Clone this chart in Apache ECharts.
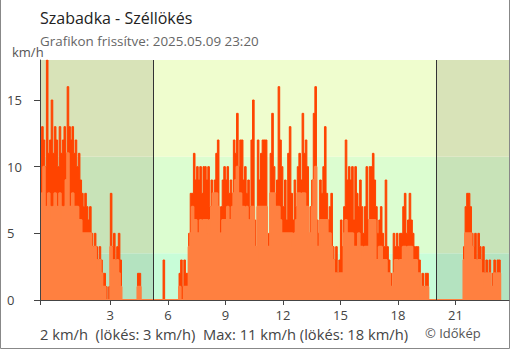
<!DOCTYPE html>
<html>
<head>
<meta charset="utf-8">
<script src="https://cdn.jsdelivr.net/npm/echarts@6/dist/echarts.min.js"></script>
<style>
  html, body { margin: 0; padding: 0; background: #fff; }
  #chart { width: 510px; height: 350px; }
</style>
</head>
<body>
<div id="chart"></div>
<script>
// Subotica wind record: 5-minute samples from 23:20 of the previous day to 23:20.
const startHour = -2 / 3;
const stepHours = 5 / 60;

// Gusts (km/h), one value per 5-minute slot; the trailing 0 closes the last step.
const gustKmh = [
  12,13,12,10,18,11,12,15,11,13,
  12,10,13,11,12,13,11,16,13,12,
  13,11,12,10,11,9,8,7,8,7,
  6,7,5,4,5,4,3,4,3,2,
  2,1,0,1,8,4,5,3,4,5,
  3,0,0,0,0,0,0,0,0,0,
  0,2,2,0,0,0,0,0,0,0,
  0,0,0,0,0,0,0,3,0,0,
  0,0,0,0,0,0,0,2,3,1,
  3,2,2,5,8,8,11,9,10,9,
  10,8,10,10,9,10,7,9,7,9,
  11,12,6,7,9,10,9,10,8,9,
  8,12,11,14,10,12,12,9,10,8,
  9,7,12,15,6,4,12,9,11,12,
  12,12,4,5,11,14,10,8,9,16,
  12,10,7,9,6,11,13,8,6,9,
  7,10,11,9,14,11,12,10,5,7,
  9,14,16,6,5,9,8,10,13,8,
  6,7,8,4,3,4,2,3,6,4,
  7,12,9,10,9,10,6,10,8,7,
  9,7,5,7,10,6,10,10,11,9,
  7,5,6,7,5,4,9,4,3,2,
  1,5,4,5,4,5,5,7,8,5,
  6,8,6,5,4,4,4,3,1,2,
  1,2,2,0,0,0,0,0,0,0,
  0,0,0,0,0,0,0,0,0,0,
  0,0,0,0,0,4,7,8,8,7,
  5,4,5,3,5,4,3,4,2,3,
  2,3,1,2,3,2,3,3,0
];

// Mean wind speed (km/h), same slots.
const speedKmh = [
  6,8,10,6,7,8,7,6,7,8,
  7,6,8,7,6,7,9,11,7,7,
  8,7,7,7,6,6,5,5,5,5,
  5,5,4,3,4,3,2,3,2,1,
  1,0,0,0,4,2,3,2,3,2,
  1,0,0,0,0,0,0,0,0,0,
  0,1,1,0,0,0,0,0,0,0,
  0,0,0,0,0,0,0,0,0,0,
  0,0,0,0,0,0,0,1,0,0,
  1,1,1,4,5,7,6,6,5,5,
  6,5,6,6,6,5,6,7,8,8,
  8,7,4,5,6,6,6,7,6,6,
  7,8,9,10,8,8,7,7,6,7,
  6,5,7,7,4,3,7,7,7,7,
  7,7,4,4,8,8,8,7,7,7,
  6,5,5,5,5,5,5,5,4,5,
  6,8,8,7,8,8,7,7,4,5,
  7,9,10,4,4,6,6,6,6,6,
  5,5,4,3,2,2,1,2,2,2,
  5,6,5,5,5,5,4,4,4,5,
  4,4,3,4,4,4,6,6,6,6,
  3,3,4,4,3,3,3,2,2,1,
  1,2,3,3,2,3,3,4,4,3,
  4,4,4,3,3,3,2,2,0,1,
  0,1,1,0,0,0,0,0,0,0,
  0,0,0,0,0,0,0,0,0,0,
  0,0,0,0,0,3,5,5,5,5,
  4,3,3,2,3,3,2,2,1,2,
  1,2,1,1,2,1,2,2,0
];

const xTickHours = [3, 6, 9, 12, 15, 18, 21];
const yTickKmh = [0, 5, 10, 15];
const axisMaxHour = 23.79;
const sunriseHour = 5.24;
const sunsetHour = 20.0;
// Wind strength bands (km/h): calm, light, fresh
const bandEdges = [0, 3.5, 10.75, 18];
const bandColorsDay = ['#c8fdd8', '#dcfdd0', '#effdce'];
const bandColorsNight = ['#b4e3c0', '#c8e3b8', '#d8e3b8'];

const FONT = '"Open Sans", "Noto Sans", sans-serif';

function toPairs(values) {
  return values.map((v, i) => [startHour + i * stepHours, v]);
}

// Background rectangles: wind bands split into night / day / night
const periods = [
  [startHour, sunriseHour, bandColorsNight],
  [sunriseHour, sunsetHour, bandColorsDay],
  [sunsetHour, axisMaxHour, bandColorsNight]
];
const areas = [];
periods.forEach(([x0, x1, colors]) => {
  for (let b = 0; b < 3; b++) {
    areas.push([
      { xAxis: x0, yAxis: bandEdges[b], itemStyle: { color: colors[b], opacity: 1 } },
      { xAxis: x1, yAxis: bandEdges[b + 1] }
    ]);
  }
});

const chart = echarts.init(document.getElementById('chart'), null, { renderer: 'svg' });
chart.setOption({
  animation: false,
  textStyle: { fontFamily: FONT },
  grid: { left: 40, right: 1, top: 60, bottom: 50 },
  xAxis: {
    type: 'value',
    min: startHour,
    max: axisMaxHour,
    z: 10,
    axisLine: { show: true, onZero: false, lineStyle: { color: '#444', width: 1 } },
    axisTick: { show: true, customValues: [startHour].concat(xTickHours), length: 5, lineStyle: { color: '#444' } },
    axisLabel: { customValues: xTickHours, color: '#444', fontSize: 13, margin: 8, lineHeight: 13, fontFamily: FONT },
    splitLine: { show: false }
  },
  yAxis: {
    type: 'value',
    min: 0,
    max: 18,
    z: 10,
    axisLine: { show: true, onZero: false, lineStyle: { color: '#444', width: 1 } },
    axisTick: { show: true, customValues: yTickKmh, length: 6, lineStyle: { color: '#444' } },
    axisLabel: { customValues: yTickKmh, color: '#444', fontSize: 13, align: 'left', margin: 33, fontFamily: FONT },
    splitLine: { show: false }
  },
  series: [
    {
      type: 'line',
      data: [],
      z: 1,
      silent: true,
      markArea: { silent: true, data: areas },
      markLine: {
        silent: true,
        symbol: ['none', 'none'],
        label: { show: false },
        lineStyle: { color: '#333', width: 1, type: 'solid' },
        data: [{ xAxis: sunriseHour }, { xAxis: sunsetHour }]
      }
    },
    {
      name: 'Széllökés',
      type: 'line',
      step: 'end',
      z: 2,
      symbol: 'none',
      data: toPairs(gustKmh),
      lineStyle: { color: '#ff4400', width: 1 },
      areaStyle: { color: '#ff4400', opacity: 1 }
    },
    {
      name: 'Szélsebesség',
      type: 'line',
      step: 'end',
      z: 3,
      symbol: 'none',
      data: toPairs(speedKmh),
      lineStyle: { color: '#ff8040', width: 2 },
      areaStyle: { color: '#ff8040', opacity: 1 }
    }
  ],
  graphic: [
    { type: 'text', x: 40, y: 18, style: { text: 'Szabadka - Széllökés', fill: '#222', font: '16px ' + FONT, verticalAlign: 'middle', lineHeight: 18 } },
    { type: 'text', x: 40, y: 41, style: { text: 'Grafikon frissítve: 2025.05.09 23:20', fill: '#666', font: '13.4px ' + FONT, verticalAlign: 'middle', lineHeight: 14 } },
    { type: 'text', x: 12, y: 52, style: { text: 'km/h', fill: '#555', font: '13px ' + FONT, verticalAlign: 'middle', lineHeight: 14 } },
    { type: 'text', x: 40, y: 334, style: { text: '2 km/h  (lökés: 3 km/h)  Max: 11 km/h (lökés: 18 km/h)', fill: '#444', font: '14.7px ' + FONT, verticalAlign: 'middle', lineHeight: 15 } },
    { type: 'text', x: 425, y: 333, style: { text: '© Időkép', fill: '#555', font: '13px ' + FONT, verticalAlign: 'middle', lineHeight: 14 } },
    { type: 'polyline', silent: true, shape: { points: [[0.5, 0], [0.5, 348.5], [509.5, 348.5], [509.5, 0]] }, style: { stroke: '#888', fill: null, lineWidth: 1 } }
  ]
});
</script>
</body>
</html>
